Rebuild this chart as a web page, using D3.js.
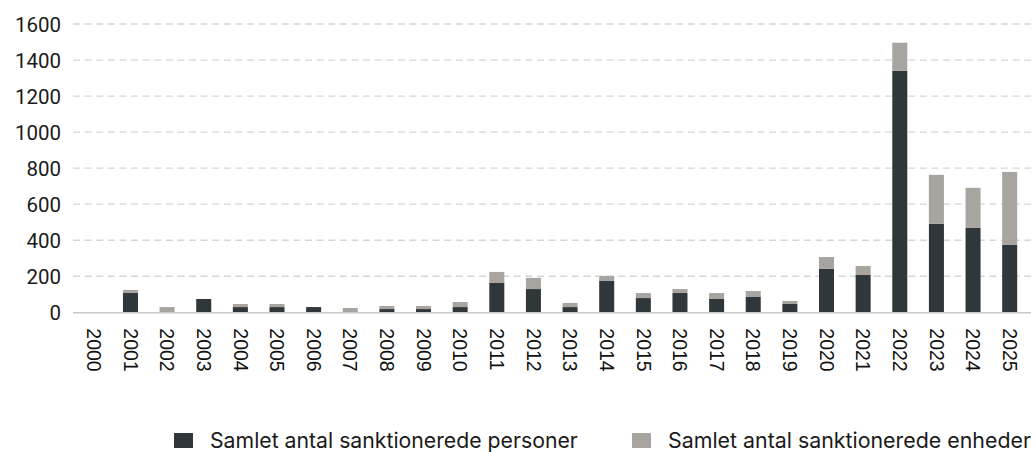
<!DOCTYPE html>
<html>
<head>
<meta charset="utf-8">
<script src="https://cdn.jsdelivr.net/npm/d3@7"></script>
<style>
  html, body { margin: 0; padding: 0; background: #ffffff; }
  svg { display: block; }
</style>
</head>
<body>
<svg id="chart" width="1034" height="452"></svg>
<script>
const years = ["2000","2001","2002","2003","2004","2005","2006","2007","2008","2009","2010","2011","2012","2013","2014","2015","2016","2017","2018","2019","2020","2021","2022","2023","2024","2025"];
const personer = [0,107,0,74,29,29,29,0,18,18,29,163,129,29,174,79,107,74,85,46,241,207,1340,491,468,374];
const enheder  = [0,17,29,0,17,17,0,24,17,17,28,61,62,23,28,28,22,33,33,17,66,50,156,272,223,405];
const yTicks = [0,200,400,600,800,1000,1200,1400,1600];
const seriesNames = ["Samlet antal sanktionerede personer","Samlet antal sanktionerede enheder"];

const colors = ["#30373a", "#a8a49f"];
const svg = d3.select("#chart");

const x = d3.scaleBand().domain(years).range([75.5, 1028]).paddingInner(0.59).paddingOuter(0.295);
const y = d3.scaleLinear().domain([0, 1600]).range([312.3, 24]);

// gridlines
const grid = svg.append("g");
grid.selectAll("line").data(yTicks.filter(d => d > 0)).join("line")
  .attr("x1", 73).attr("x2", 1031)
  .attr("y1", d => y(d)).attr("y2", d => y(d))
  .attr("stroke", "#d6d6d6").attr("stroke-width", 1.3)
  .attr("stroke-dasharray", "7,4.6");

// y labels
const yAxis = d3.axisLeft(y).tickValues(yTicks).tickSize(0).tickPadding(0).tickFormat(d3.format("d"));
const yg = svg.append("g").attr("transform", "translate(61,0)").call(yAxis);
yg.select(".domain").remove();
yg.selectAll("text")
  .attr("font-family", "Roboto, 'Liberation Sans', sans-serif")
  .attr("font-size", 20.5).attr("fill", "#1a1a1a").attr("dy", "0.36em");

// stacked bars
const data = years.map((yr, i) => ({ year: yr, p: personer[i], e: enheder[i] }));
const stack = d3.stack().keys(["p", "e"])(data);
svg.append("g").selectAll("g").data(stack).join("g")
  .attr("fill", (d, i) => colors[i])
  .selectAll("rect").data(d => d).join("rect")
  .attr("x", d => x(d.data.year))
  .attr("width", x.bandwidth())
  .attr("y", d => y(d[1]))
  .attr("height", d => Math.max(0, y(d[0]) - y(d[1])));

// baseline
svg.append("line").attr("x1", 73).attr("x2", 1031).attr("y1", y(0) + 0.5).attr("y2", y(0) + 0.5)
  .attr("stroke", "#c8c8c8").attr("stroke-width", 1.5);

// x labels
const xAxis = d3.axisBottom(x).tickSize(0).tickPadding(0);
const xg = svg.append("g").attr("transform", `translate(0,${y(0)})`).call(xAxis);
xg.select(".domain").remove();
xg.selectAll("text")
  .attr("font-family", "'Liberation Sans', Arial, sans-serif")
  .attr("font-size", 19.5).attr("fill", "#111")
  .attr("text-anchor", "start")
  .attr("transform", "rotate(90)")
  .attr("x", 16).attr("y", 0).attr("dy", "0.35em");

// legend
const legendX = [174, 632];
const legendW = [368, 363];
const lg = svg.append("g");
seriesNames.forEach((name, i) => {
  lg.append("rect").attr("x", legendX[i]).attr("y", 433).attr("width", 19).attr("height", 15).attr("fill", colors[i]);
  const t = lg.append("text").attr("x", legendX[i] + 36).attr("y", 448)
    .attr("font-family", "Inter, Roboto, sans-serif")
    .attr("font-size", 20).attr("fill", "#1a1a1a").text(name);
  const w = t.node().getComputedTextLength();
  if (w > 0) {
    const fs = Math.max(18, Math.min(22, 20 * legendW[i] / w));
    t.attr("font-size", fs);
  }
});
</script>
</body>
</html>
